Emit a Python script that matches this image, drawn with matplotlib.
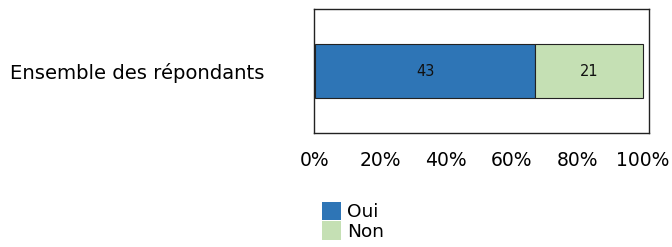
import matplotlib
matplotlib.use("Agg")
import matplotlib.pyplot as plt
from matplotlib.patches import Patch

category = "Ensemble des répondants"
series_names = ["Oui", "Non"]
counts = [43, 21]
colors = ["#2E75B6", "#C5E0B4"]
tick_values = [0, 20, 40, 60, 80, 100]
tick_labels = ["0%", "20%", "40%", "60%", "80%", "100%"]

W, H = 672, 247
fig = plt.figure(figsize=(W / 100, H / 100), dpi=100)
ax = fig.add_axes([314 / W, 1 - 133 / H, (649 - 314) / W, (133 - 9) / H])

total = sum(counts)
left = 0.0
for name, c, col in zip(series_names, counts, colors):
    pct = c / total * 100
    ax.barh(0, pct, left=left, height=0.887, color=col, edgecolor="#222222",
            linewidth=0.8, label=name)
    ax.text(left + pct / 2, 0, str(c), ha="center", va="center", fontsize=10.5,
            color="#111111")
    left += pct

ax.set_xlim(-0.3, 101.8)
ax.set_ylim(-1, 1)
ax.set_yticks([])
ax.set_xticks(tick_values)
ax.set_xticklabels(tick_labels, fontsize=13.5)
ax.tick_params(axis="x", length=0, pad=13)
for s in ax.spines.values():
    s.set_color("#222222")
    s.set_linewidth(1.0)

fig.text(10 / W, 1 - 73 / H, category, ha="left", va="center", fontsize=14.1)

handles = [Patch(facecolor=c, edgecolor="none") for c in colors]
fig.legend(handles, series_names, loc="upper left",
           bbox_to_anchor=(318 / W, 1 - 198 / H), frameon=False, fontsize=13.3,
           handlelength=1.05, handleheight=1.15, handletextpad=0.3,
           labelspacing=0.02, borderpad=0.2, borderaxespad=0)

fig.savefig("out.png", dpi=100)
